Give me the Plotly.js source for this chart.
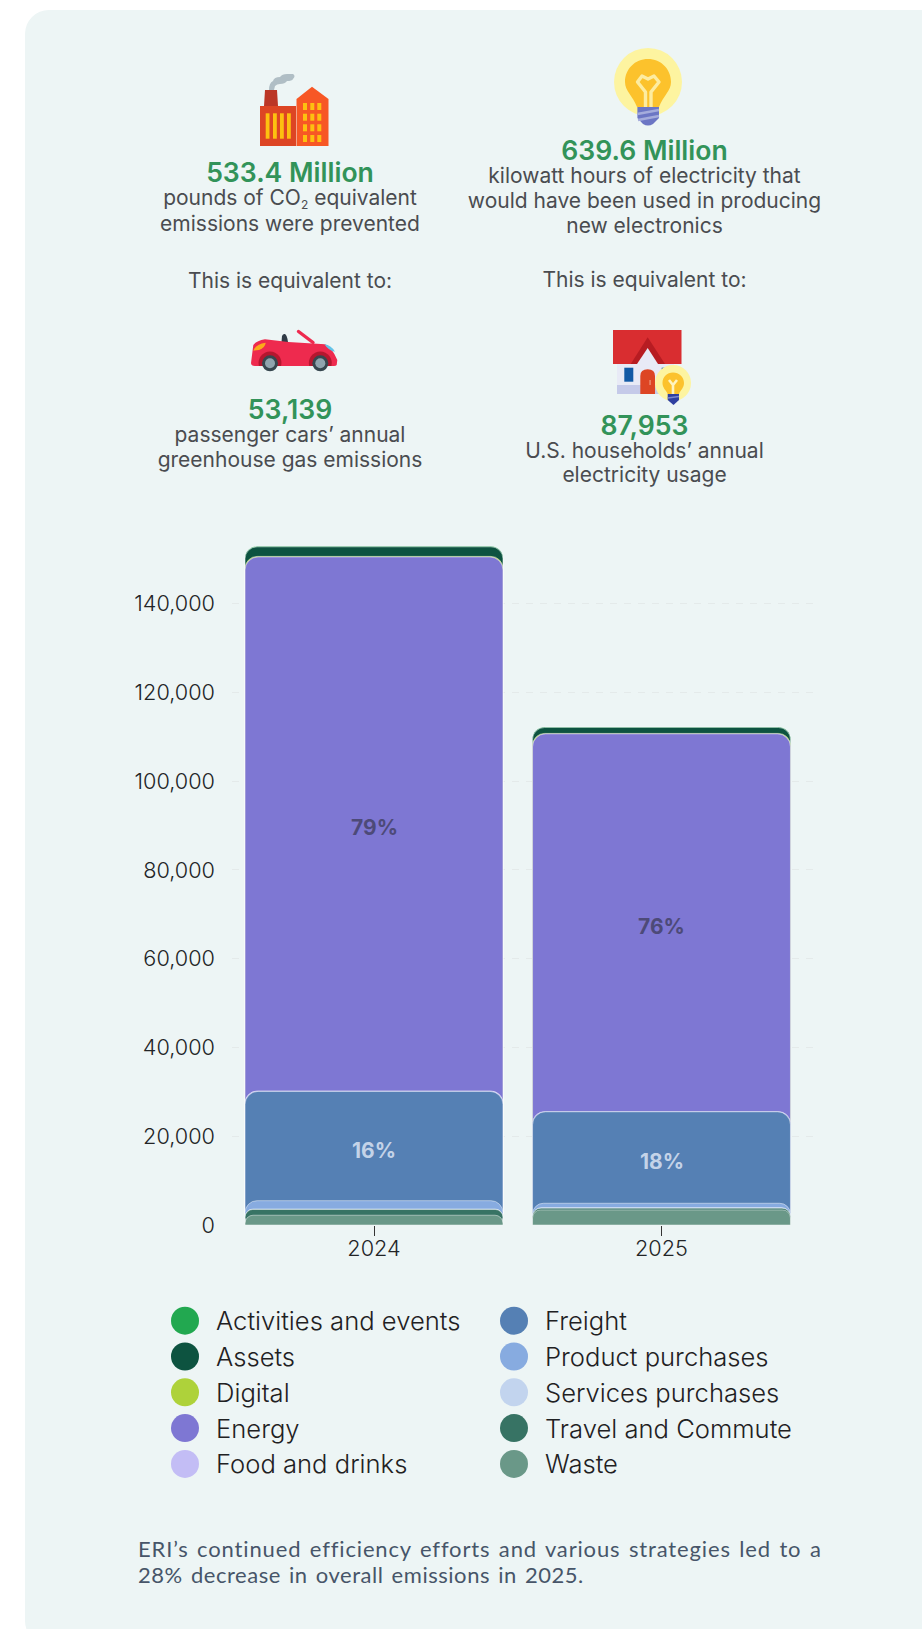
<!DOCTYPE html>
<html lang="en">
<head>
<meta charset="utf-8">
<title>ERI emissions</title>
<script src="https://cdn.plot.ly/plotly-3.0.1.min.js"></script>
<style>
  html, body { margin: 0; padding: 0; background: #fff; overflow: hidden; }
  #page { position: relative; width: 922px; height: 1629px; overflow: hidden; }
  #panel { position: absolute; left: 25px; top: 10px; width: 940px; height: 1635px; border-radius: 24px; background: #edf5f5; }
  #chart { position: absolute; left: 0; top: 0; width: 922px; height: 1629px; }
  .t { position: absolute; white-space: nowrap; transform: translateX(-50%); font-family: Inter, sans-serif; line-height: 24px; height: 24px; }
  .body { font-size: 21px; font-weight: 400; color: #4a4c50; }
  .big { font-size: 26.6px; font-weight: 600; color: #329359; }
  .t sub { font-size: 12px; line-height: 0; vertical-align: -4px; }
  .foot { position: absolute; left: 138px; white-space: nowrap; font-family: Lato, sans-serif; font-size: 22px; color: #475569; line-height: 24px; height: 24px; letter-spacing: 0.85px; word-spacing: 2px; }
  svg.icon { position: absolute; overflow: visible; }
</style>
</head>
<body>
<div id="page">
  <div id="panel"></div>

  <!-- factory -->
  <svg class="icon" style="left:260px;top:74px" width="69" height="72" viewBox="0 0 69 72">
    <path d="M9 16 Q9 9 13 7 Q14 3 20 3 Q22 0 27 0 L33 0 Q36 2 33 5 Q32 7 27 7 Q25 10 20 10 Q17 10 15 12 L14 16 Z" fill="#b0bec5"/>
    <path d="M5 16 L17 16 L18 32 L4 32 Z" fill="#bb3626"/>
    <rect x="0" y="32" width="36" height="40" fill="#dd4524"/>
    <path d="M36.5 25 L52 12.7 L68.5 25 L68.5 72 L36.5 72 Z" fill="#f75725"/>
    <g fill="#fdc010">
      <rect x="5.7" y="39.3" width="3.8" height="25.4"/><rect x="13" y="39.3" width="3.8" height="25.4"/>
      <rect x="20" y="39.3" width="3.8" height="25.4"/><rect x="27" y="39.3" width="3.8" height="25.4"/>
      <rect x="43" y="29" width="4" height="7"/><rect x="50.3" y="29" width="4" height="7"/><rect x="57.3" y="29" width="4" height="7"/>
      <rect x="43" y="39.7" width="4" height="7"/><rect x="50.3" y="39.7" width="4" height="7"/><rect x="57.3" y="39.7" width="4" height="7"/>
      <rect x="43" y="50.3" width="4" height="7"/><rect x="50.3" y="50.3" width="4" height="7"/><rect x="57.3" y="50.3" width="4" height="7"/>
      <rect x="43" y="61" width="4" height="7"/><rect x="50.3" y="61" width="4" height="7"/><rect x="57.3" y="61" width="4" height="7"/>
    </g>
  </svg>

  <!-- light bulb -->
  <svg class="icon" style="left:613px;top:46px" width="72" height="82" viewBox="0 0 72 82">
    <circle cx="35" cy="36" r="34" fill="#fdf4a0"/>
    <path d="M35 13 C22 13 12 23 12 36 C12 45 20 50 24 61 L46 61 C50 50 58 45 58 36 C58 23 48 13 35 13 Z" fill="#fcc22c"/>
    <path d="M32.5 61 L32.5 46 L24.5 36 L29 30 L35 33 L41 30 L46 36 L38 46 L38 61" fill="none" stroke="#fdeca0" stroke-width="3.4" stroke-linejoin="round"/>
    <path d="M24.4 61 L46 61 L46 72 L40 78 Q35 81 30 78 L24.4 72 Z" fill="#6c76c4"/>
    <path d="M24.4 68 L46 64 M25 74 L46 70" stroke="#a5acdc" stroke-width="2.6"/>
  </svg>

  <!-- convertible car -->
  <svg class="icon" style="left:251px;top:330px" width="88" height="44" viewBox="0 0 88 44">
    <path d="M47.5 1.5 L62 12.5" stroke="#ee2a4e" stroke-width="3.4" stroke-linecap="round"/>
    <path d="M30.5 12 L31 6 Q32 3.5 34 4 Q36 5 37 12 Z" fill="#2f3b46"/>
    <path d="M0 33 L2.3 15 Q5 11 14 9.3 L37.3 12 L74 14.3 Q80 16 86.3 30 L85.7 35 Q85 36 83 36 L4 36 Q0 36 0 33 Z" fill="#ee2a4e"/>
    <path d="M2.3 20.7 Q5 14 14.7 12.7 Q14 18 8 20 Z" fill="#fbaa1a"/>
    <path d="M73.3 14.3 Q80 15 84 21.7 Q78 21 73.3 14.3 Z" fill="#63c4e8"/>
    <path d="M7.9 36 A 11.5 11.5 0 1 1 30.1 36 Z" fill="#b5172f"/>
    <path d="M58.2 36 A 11.5 11.5 0 1 1 80.4 36 Z" fill="#b5172f"/>
    <circle cx="19" cy="33.3" r="8" fill="#37474f"/><circle cx="19" cy="33.3" r="5" fill="#90a4ae"/>
    <circle cx="69.3" cy="33.3" r="8" fill="#37474f"/><circle cx="69.3" cy="33.3" r="5" fill="#90a4ae"/>
  </svg>

  <!-- house with bulb -->
  <svg class="icon" style="left:613px;top:330px" width="69" height="65" viewBox="0 0 69 65">
    <rect x="4" y="34" width="57" height="30" fill="#e8eaf6"/>
    <rect x="4" y="55" width="57" height="9" fill="#c5cae9"/>
    <rect x="11.3" y="37.7" width="9" height="14" fill="#1259a5"/>
    <rect x="48.7" y="37.7" width="10" height="14" fill="#1259a5"/>
    <rect x="0" y="0" width="68.5" height="34" fill="#d92d30"/>
    <path d="M17.7 34 L34.7 7.3 L52 34 Z" fill="#b71c22"/>
    <path d="M24 34 L34.7 18 L45 34 Z" fill="#e8eaf6"/>
    <path d="M27.3 64 L27.3 46 Q27.3 39.3 34.7 39.3 Q42 39.3 42 46 L42 64 Z" fill="#dd4524"/>
    <rect x="36.6" y="50" width="0.9" height="5" fill="#f5b8a0"/>
  </svg>
  <svg class="icon" style="left:655px;top:365px" width="38" height="42" viewBox="0 0 38 42">
    <circle cx="18" cy="18" r="18" fill="#fdf4a0"/>
    <path d="M18 7.5 C12 7.5 7.5 12 7.5 18 C7.5 23 11 25 12.7 29 L24 29 C25.5 25 29 23 29 18 C29 12 24 7.5 18 7.5 Z" fill="#fcc22c"/>
    <path d="M18 29 L18 20 M14 15 L18 20 L22 15" stroke="#fff4c0" stroke-width="2.6" fill="none"/>
    <path d="M12.7 29 L24 29 L24 35 L18.5 40 L12.7 35 Z" fill="#2f3fa0"/>
    <path d="M12.7 33 L24 31.5" stroke="#7b87cf" stroke-width="1.4"/>
  </svg>

  <!-- Headline figures and their captions -->
  <div class="t big"  style="left:290px;top:160px">533.4 Million</div>
  <div class="t body" style="left:290px;top:186px">pounds of CO<sub>2</sub> equivalent</div>
  <div class="t body" style="left:290px;top:212px">emissions were prevented</div>
  <div class="t body" style="left:290px;top:269px">This is equivalent to:</div>

  <div class="t big"  style="left:644.5px;top:138px">639.6 Million</div>
  <div class="t body" style="left:644.5px;top:164px">kilowatt hours of electricity that</div>
  <div class="t body" style="left:644.5px;top:189px">would have been used in producing</div>
  <div class="t body" style="left:644.5px;top:214px">new electronics</div>
  <div class="t body" style="left:644.5px;top:268px">This is equivalent to:</div>

  <div class="t big"  style="left:290px;top:397px">53,139</div>
  <div class="t body" style="left:290px;top:423px">passenger cars’ annual</div>
  <div class="t body" style="left:290px;top:448px">greenhouse gas emissions</div>

  <div class="t big"  style="left:644.5px;top:413px">87,953</div>
  <div class="t body" style="left:644.5px;top:439px">U.S. households’ annual</div>
  <div class="t body" style="left:644.5px;top:463px">electricity usage</div>

  <div id="chart"></div>

  <div class="foot" style="top:1537px">ERI’s continued efficiency efforts and various strategies led to a</div>
  <div class="foot" style="top:1563px;letter-spacing:0.53px">28% decrease in overall emissions in 2025.</div>
</div>

<script>
// Emissions by category (metric tons CO2e), listed in legend order
const years = ['2024', '2025'];
const activities = [120, 100];
const assets = [2150, 1330];
const digital = [130, 100];
const energy = [120300, 85100];
const food = [100, 50];
const freight = [24620, 20600];
const product = [1880, 1000];
const services = [100, 100];
const travel = [1300, 400];
const waste = [2200, 3400];

const categories = ['Activities and events', 'Assets', 'Digital', 'Energy', 'Food and drinks',
  'Freight', 'Product purchases', 'Services purchases', 'Travel and Commute', 'Waste'];
const seriesValues = [activities, assets, digital, energy, food, freight, product, services, travel, waste];
const colors = ['#22a850', '#0d5340', '#aed23a', '#7e77d3', '#c3bdf5',
  '#5580b4', '#87abe0', '#c2d4ee', '#377364', '#6a9888'];
const radii = [12, 12, 12, 13, 12, 13, 12, 10, 12, 8];

const shareLabels = { Energy: ['79%', '76%'], Freight: ['16%', '18%'] };
const shareColors = { Energy: '#4d4a78', Freight: '#c4d3e8' };

// Layout geometry of the page, in pixels
const W = 922, H = 1629;
const plotLeft = 232, plotRight = 814, plotTop = 537, plotBottom = 1225;
const pxPerCategory = 287.5, firstCategoryPx = 374;
const legendX = [185, 514], legendRowPx = 35.8, legendTopPx = 1320.7;
const yMax = 155000;

// Each segment is drawn as a bar from zero to its running total, tallest first,
// so that each one keeps its own rounded top with the next colour in the corners.
const totals = seriesValues.map((_, i) => years.map((_, j) =>
  seriesValues.slice(i).reduce((sum, s) => sum + s[j], 0)));

const axisFont = { family: 'Inter, sans-serif', size: 21.7, weight: 300, color: '#222426' };
const lastIndex = categories.length - 1;
const traces = [];
categories.forEach((name, i) => {
  // The front bar gets its own overlaying axis: without a base its foot stays square on the axis
  const isFront = i === lastIndex;
  const bar = {
    type: 'bar', name, x: [0, 1], y: totals[i], width: 0.897,
    marker: { color: colors[i], cornerradius: radii[i], line: { color: 'rgba(255,255,255,0.45)', width: 1 } },
    hoverinfo: 'name+y', showlegend: false, xaxis: 'x', yaxis: isFront ? 'y3' : 'y'
  };
  if (!isFront) bar.base = 0;
  traces.push(bar);
});

// Circular swatches for the two-column key
const perColumn = 5;
traces.push({
  type: 'scatter', mode: 'markers', xaxis: 'x2', yaxis: 'y2', showlegend: false, hoverinfo: 'skip',
  x: categories.map((_, i) => Math.floor(i / perColumn)),
  y: categories.map((_, i) => i % perColumn),
  marker: { size: 28, color: colors, line: { width: 0 } }
});

const annotations = categories.map((name, i) => ({
  xref: 'x2', yref: 'y2', x: Math.floor(i / perColumn), y: i % perColumn, xanchor: 'left', yanchor: 'middle',
  xshift: 28.5, showarrow: false, text: name,
  font: { family: 'Inter, sans-serif', size: 25.6, weight: 300, color: '#1f2123' }
}));

// Share labels sit near the middle of their own segment
Object.keys(shareLabels).forEach(name => {
  const i = categories.indexOf(name);
  years.forEach((_, j) => {
    annotations.push({
      xref: 'x', yref: 'y', x: j, y: totals[i][j] - seriesValues[i][j] / 2, yshift: -4, showarrow: false,
      text: shareLabels[name][j],
      font: { family: 'Inter, sans-serif', size: 21, weight: 700, color: shareColors[name] }
    });
  });
});

const layout = {
  width: W, height: H, autosize: false,
  margin: { l: 0, r: 0, t: 0, b: 0 },
  paper_bgcolor: 'rgba(0,0,0,0)', plot_bgcolor: 'rgba(0,0,0,0)',
  barmode: 'overlay', showlegend: false,
  xaxis: {
    domain: [plotLeft / W, plotRight / W],
    range: [(plotLeft - firstCategoryPx) / pxPerCategory, (plotRight - firstCategoryPx) / pxPerCategory],
    tickmode: 'array', tickvals: years.map((_, j) => j), ticktext: years,
    ticks: 'outside', ticklen: 10, tickwidth: 1, tickcolor: '#333', ticklabelstandoff: -6,
    showgrid: false, zeroline: false, showline: false, tickfont: axisFont, fixedrange: true
  },
  yaxis: {
    domain: [(H - plotBottom) / H, (H - plotTop) / H],
    range: [0, yMax], tick0: 0, dtick: 20000, tickformat: ',d',
    showgrid: true, gridcolor: '#e4eaea', griddash: '7px,7px', gridwidth: 1,
    zeroline: false, showline: false, ticks: '', ticklabelstandoff: 16, tickfont: axisFont, fixedrange: true
  },
  yaxis3: {
    overlaying: 'y', range: [0, yMax], visible: false, fixedrange: true, showgrid: false, zeroline: false
  },
  xaxis2: {
    domain: [0, 1], anchor: 'y2', visible: false, fixedrange: true,
    range: [-legendX[0] / (legendX[1] - legendX[0]), (W - legendX[0]) / (legendX[1] - legendX[0])]
  },
  yaxis2: {
    domain: [0, 1], anchor: 'x2', visible: false, fixedrange: true,
    range: [(H - legendTopPx) / legendRowPx, -legendTopPx / legendRowPx]
  },
  annotations
};

Plotly.newPlot('chart', traces, layout, { displayModeBar: false });
</script>
</body>
</html>
